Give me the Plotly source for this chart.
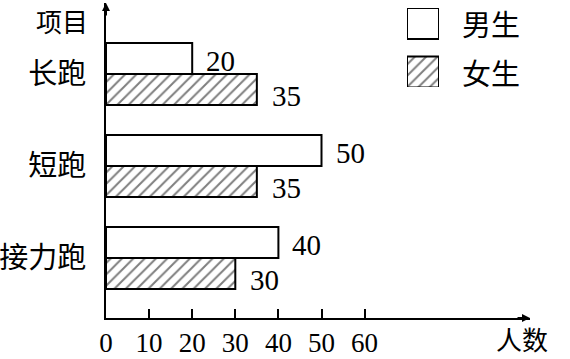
import plotly.graph_objects as go

# ---- data ----
categories = ["长跑", "短跑", "接力跑"]
series_names = ["男生", "女生"]
male_values = [20, 50, 40]
female_values = [35, 35, 30]
x_ticks = [0, 10, 20, 30, 40, 50, 60]
x_title = "人数"
y_title = "项目"

W, H = 570, 359
L, R, T, B = 106, 40, 3, 41
PW, PH = W - L - R, H - T - B

def px_x(px):
    return (px - L) / PW

def px_y(py):
    return (H - B - py) / PH

SERIF = "Times New Roman, Liberation Serif, DejaVu Serif, serif"
CJK = "Noto Sans CJK SC"
FS = 29
HATCH = dict(shape="/", fgcolor="black", bgcolor="white", size=8, solidity=0.25)

fig = go.Figure()

# female first so male sits on top within each group
fig.add_trace(go.Bar(
    y=categories, x=female_values, orientation="h", name=series_names[1],
    marker=dict(color="white", line=dict(color="black", width=2), pattern=HATCH),
    showlegend=False, xaxis="x", yaxis="y"))
fig.add_trace(go.Bar(
    y=categories, x=male_values, orientation="h", name=series_names[0],
    marker=dict(color="white", line=dict(color="black", width=2)),
    showlegend=False, xaxis="x", yaxis="y"))

# value labels
for c, v in zip(categories, male_values):
    fig.add_annotation(x=v, y=c, xref="x", yref="y", text=str(v), showarrow=False,
                       xanchor="left", yanchor="middle", xshift=12, yshift=13,
                       font=dict(family=SERIF, size=FS, color="black"))
for c, v in zip(categories, female_values):
    fig.add_annotation(x=v, y=c, xref="x", yref="y", text=str(v), showarrow=False,
                       xanchor="left", yanchor="middle", xshift=13, yshift=-22,
                       font=dict(family=SERIF, size=FS, color="black"))

# legend drawn with a small second subplot
fig.add_trace(go.Bar(
    y=[0], x=[1], orientation="h", width=0.64,
    marker=dict(color="white", line=dict(color="black", width=2)),
    showlegend=False, xaxis="x2", yaxis="y2", hoverinfo="skip"))
fig.add_trace(go.Bar(
    y=[1], x=[1], orientation="h", width=0.64,
    marker=dict(color="white", line=dict(color="black", width=2), pattern=HATCH),
    showlegend=False, xaxis="x2", yaxis="y2", hoverinfo="skip"))
for i, name in enumerate(series_names):
    fig.add_annotation(x=px_x(460), y=px_y(23.5 + 48.5 * i), xref="paper", yref="paper",
                       text=name, showarrow=False, xanchor="left", yanchor="middle",
                       font=dict(family=CJK, size=FS, color="black"))

# axis titles (anchored to the page edges so their boxes stay inside)
fig.add_annotation(x=px_x(522), y=px_y(H), xref="paper", yref="paper", text=x_title,
                   showarrow=False, xanchor="center", yanchor="bottom",
                   font=dict(family=CJK, size=26, color="black"))
fig.add_annotation(x=px_x(62), y=px_y(0), xref="paper", yref="paper", text=y_title,
                   showarrow=False, xanchor="center", yanchor="top",
                   font=dict(family=CJK, size=26, color="black"))

# axis arrows
fig.add_annotation(x=1, y=0, xref="paper", yref="paper", ax=-14, ay=0, text="",
                   showarrow=True, arrowhead=2, arrowsize=0.8, arrowwidth=2,
                   arrowcolor="black")
fig.add_annotation(x=0, y=1, xref="paper", yref="paper", ax=0, ay=14, text="",
                   showarrow=True, arrowhead=2, arrowsize=0.8, arrowwidth=2,
                   arrowcolor="black")

fig.update_layout(
    width=W, height=H, margin=dict(l=L, r=R, t=T, b=B, autoexpand=False),
    paper_bgcolor="white", plot_bgcolor="white",
    barmode="group", bargap=0.326, bargroupgap=0,
    xaxis=dict(range=[0, PW / 4.31], tickvals=x_ticks, ticktext=[str(t) for t in x_ticks],
               ticks="inside", ticklen=9, tickwidth=1.5, tickcolor="black",
               showline=True, linecolor="black", linewidth=2, showgrid=False,
               zeroline=False, ticklabelstandoff=0, automargin=False,
               tickfont=dict(family=SERIF, size=27, color="black")),
    yaxis=dict(type="category", categoryorder="array",
               categoryarray=list(reversed(categories)),
               range=[-0.652, 2.772], showline=True, linecolor="black", linewidth=2,
               showgrid=False, zeroline=False, ticks="", ticklabelstandoff=12,
               automargin=False,
               tickfont=dict(family=CJK, size=FS, color="black")),
    xaxis2=dict(domain=[px_x(407), px_x(439)], range=[0, 1], visible=False,
                anchor="y2"),
    yaxis2=dict(domain=[px_y(87), px_y(8)], range=[1.309, -0.320], visible=False,
                anchor="x2"),
)

fig.write_html("out.html")
